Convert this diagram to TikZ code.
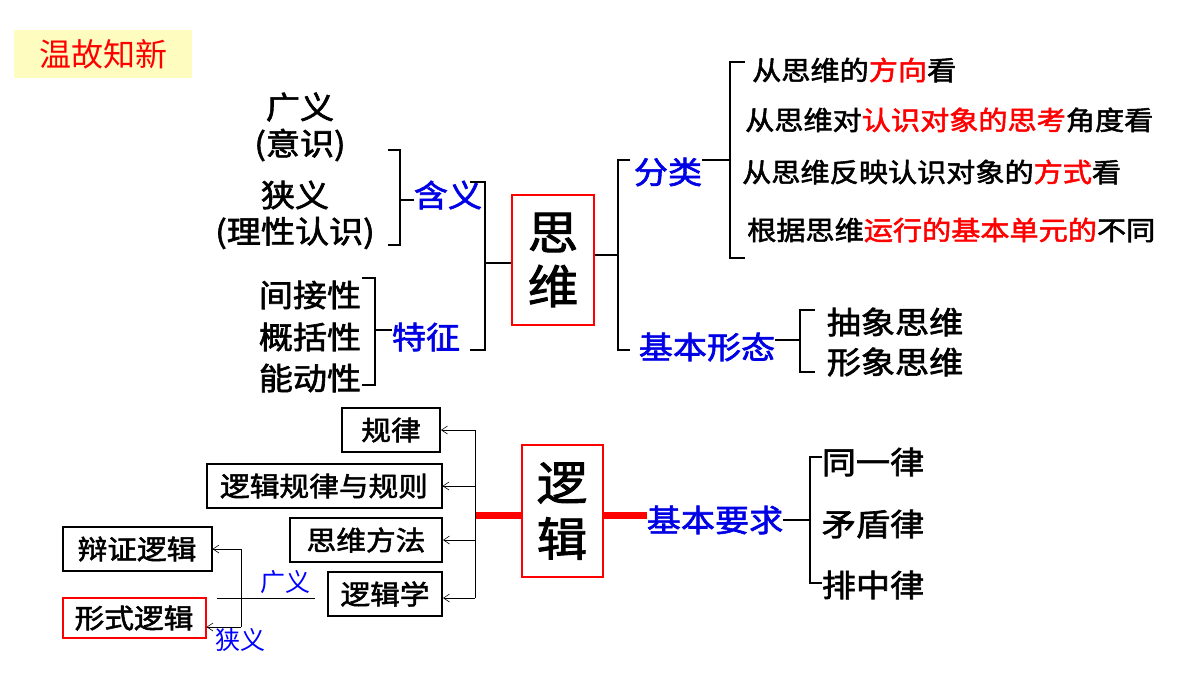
\documentclass[tikz,border=0pt]{standalone}
\usepackage{fontspec}
\setmainfont{Noto Sans CJK SC}
\newfontfamily\cjkb{Noto Sans CJK SC}[AutoFakeBold=2,FakeStretch=1.1]
\usetikzlibrary{arrows.meta}
\begin{document}
\begin{tikzpicture}[x=1pt,y=-1pt,
  br/.style={line width=2.2pt,black},
  bt/.style={font=\cjkb\bfseries\fontsize{31}{33}\selectfont,inner sep=0},
  bl/.style={font=\cjkb\bfseries\fontsize{31}{33}\selectfont,inner sep=0,text=blue!90!black},
  mt/.style={font=\cjkb\bfseries\fontsize{26.5}{28}\selectfont,inner sep=0,anchor=west},
  bx/.style={draw,line width=2pt,font=\cjkb\bfseries\fontsize{27}{28}\selectfont,inner sep=4pt,minimum height=44pt},
  ar/.style={-{Straight Barb[length=6pt,width=8pt]},line width=0.6pt},
  redbar/.style={draw=red,line width=7pt}]
\useasboundingbox (0,0) rectangle (1200,675);
% title
\node[fill=yellow!25,minimum width=178pt,minimum height=48pt,text=red,font=\fontsize{32}{34}\selectfont] (title) at (103,54) {温故知新};
% thinking box
\node[draw=red,line width=2pt,minimum width=82pt,minimum height=130pt,font=\cjkb\bfseries\fontsize{46}{54}\selectfont,align=center,inner sep=0] (sw) at (553,260) {思\\维};
% left side
\node[bt] (gy) at (300,107) {广义};
\node[bt] (ys) at (300,145) {(意识)};
\node[bt] (xy) at (295,195) {狭义};
\node[bt] (lx) at (295,233) {(理性认识)};
\node[bl] (hy) at (448,195) {含义};
\node[bt] (jj) at (310,295) {间接性};
\node[bt] (gk) at (310,337) {概括性};
\node[bt] (nd) at (310,378) {能动性};
\node[bl] (tz) at (426,337) {特征};
\draw[br] (388,150) -- (400,150) -- (400,245) -- (388,245);
\draw[br] (400,200) -- (hy.west |- 0,200);
\draw[br] (362,278) -- (375,278) -- (375,385) -- (362,385);
\draw[br] (375,330) -- (tz.west |- 0,330);
\draw[br] (470,182) -- (485,182) -- (485,350) -- (470,350);
\coordinate (lj) at (485,263);
\draw[br] (lj) -- (sw.west |- lj);
% right side
\node[bl] (fl) at (668,172) {分类};
\node[bl] (jb) at (707,347) {基本形态};
\coordinate (rj) at (618,255);
\draw[br] (sw.east |- rj) -- (rj);
\draw[br] (630,160) -- (618,160) -- (618,350) -- (630,350);
\coordinate (fj) at (730,160);
\draw[br] (fl.east |- fj) -- (fj);
\draw[br] (745,62) -- (730,62) -- (730,258) -- (745,258);
\node[mt] (c1) at (752,70) {从思维的\textcolor{red}{方向}看};
\node[mt] (c2) at (745,120) {从思维对\textcolor{red}{认识对象的思考}角度看};
\node[mt] (c3) at (742,172) {从思维反映认识对象的\textcolor{red}{方式}看};
\node[mt] (c4) at (747,230) {根据思维\textcolor{red}{运行的基本单元的}不同};
\draw[br] (jb.east |- 0,340) -- (800,340);
\draw[br] (815,310) -- (800,310) -- (800,372) -- (815,372);
\node[bt] (cx) at (895,322) {抽象思维};
\node[bt] (xx) at (895,362) {形象思维};
% logic
\node[draw=red,line width=2pt,minimum width=81pt,minimum height=132pt,font=\cjkb\bfseries\fontsize{46}{56}\selectfont,align=center,inner sep=0] (lj2) at (562,511) {逻\\辑};
\coordinate (vl) at (475,515);
\draw[redbar] (vl) -- (lj2.west |- vl);
\node[bl] (yq) at (715,520) {基本要求};
\draw[redbar] (lj2.east |- vl) -- (yq.west |- vl);
\draw[br] (yq.east |- 0,520) -- (810,520);
\draw[br] (822,457) -- (810,457) -- (810,583) -- (822,583);
\node[bt] (ty) at (873,462) {同一律};
\node[bt] (md) at (873,524) {矛盾律};
\node[bt] (pz) at (873,585) {排中律};
% boxes
\node[bx,minimum width=98pt] (gl) at (391,430) {规律};
\node[bx,minimum width=235pt] (lg) at (324,486) {逻辑规律与规则};
\node[bx,minimum width=152pt] (sf) at (366,540) {思维方法};
\node[bx,minimum width=114pt] (lx2) at (385,594) {逻辑学};
\draw[line width=0.8pt] (475,430) -- (475,598);
\draw[ar] (475,430) -- (gl.east);
\draw[ar] (475,486) -- (lg.east);
\draw[ar] (475,540) -- (sf.east);
\draw[ar] (475,598) -- (lx2.east |- 0,598);
\node[bx,minimum width=149pt] (bz) at (137,549) {辩证逻辑};
\node[bx,draw=red,minimum width=143pt,minimum height=40pt] (xs) at (134,618) {形式逻辑};
\draw[line width=0.8pt] (241,549) -- (241,627);
\draw[ar] (241,549) -- (bz.east);
\draw[ar] (241,627) -- (xs.east |- 0,627);
\draw[line width=0.8pt] (217,598) -- (315,598);
\node[text=blue,font=\fontsize{25}{26}\selectfont,inner sep=0] (gy2) at (285,582) {广义};
\node[text=blue,font=\fontsize{25}{26}\selectfont,inner sep=0] (xy2) at (240,640) {狭义};
\end{tikzpicture}
\end{document}
